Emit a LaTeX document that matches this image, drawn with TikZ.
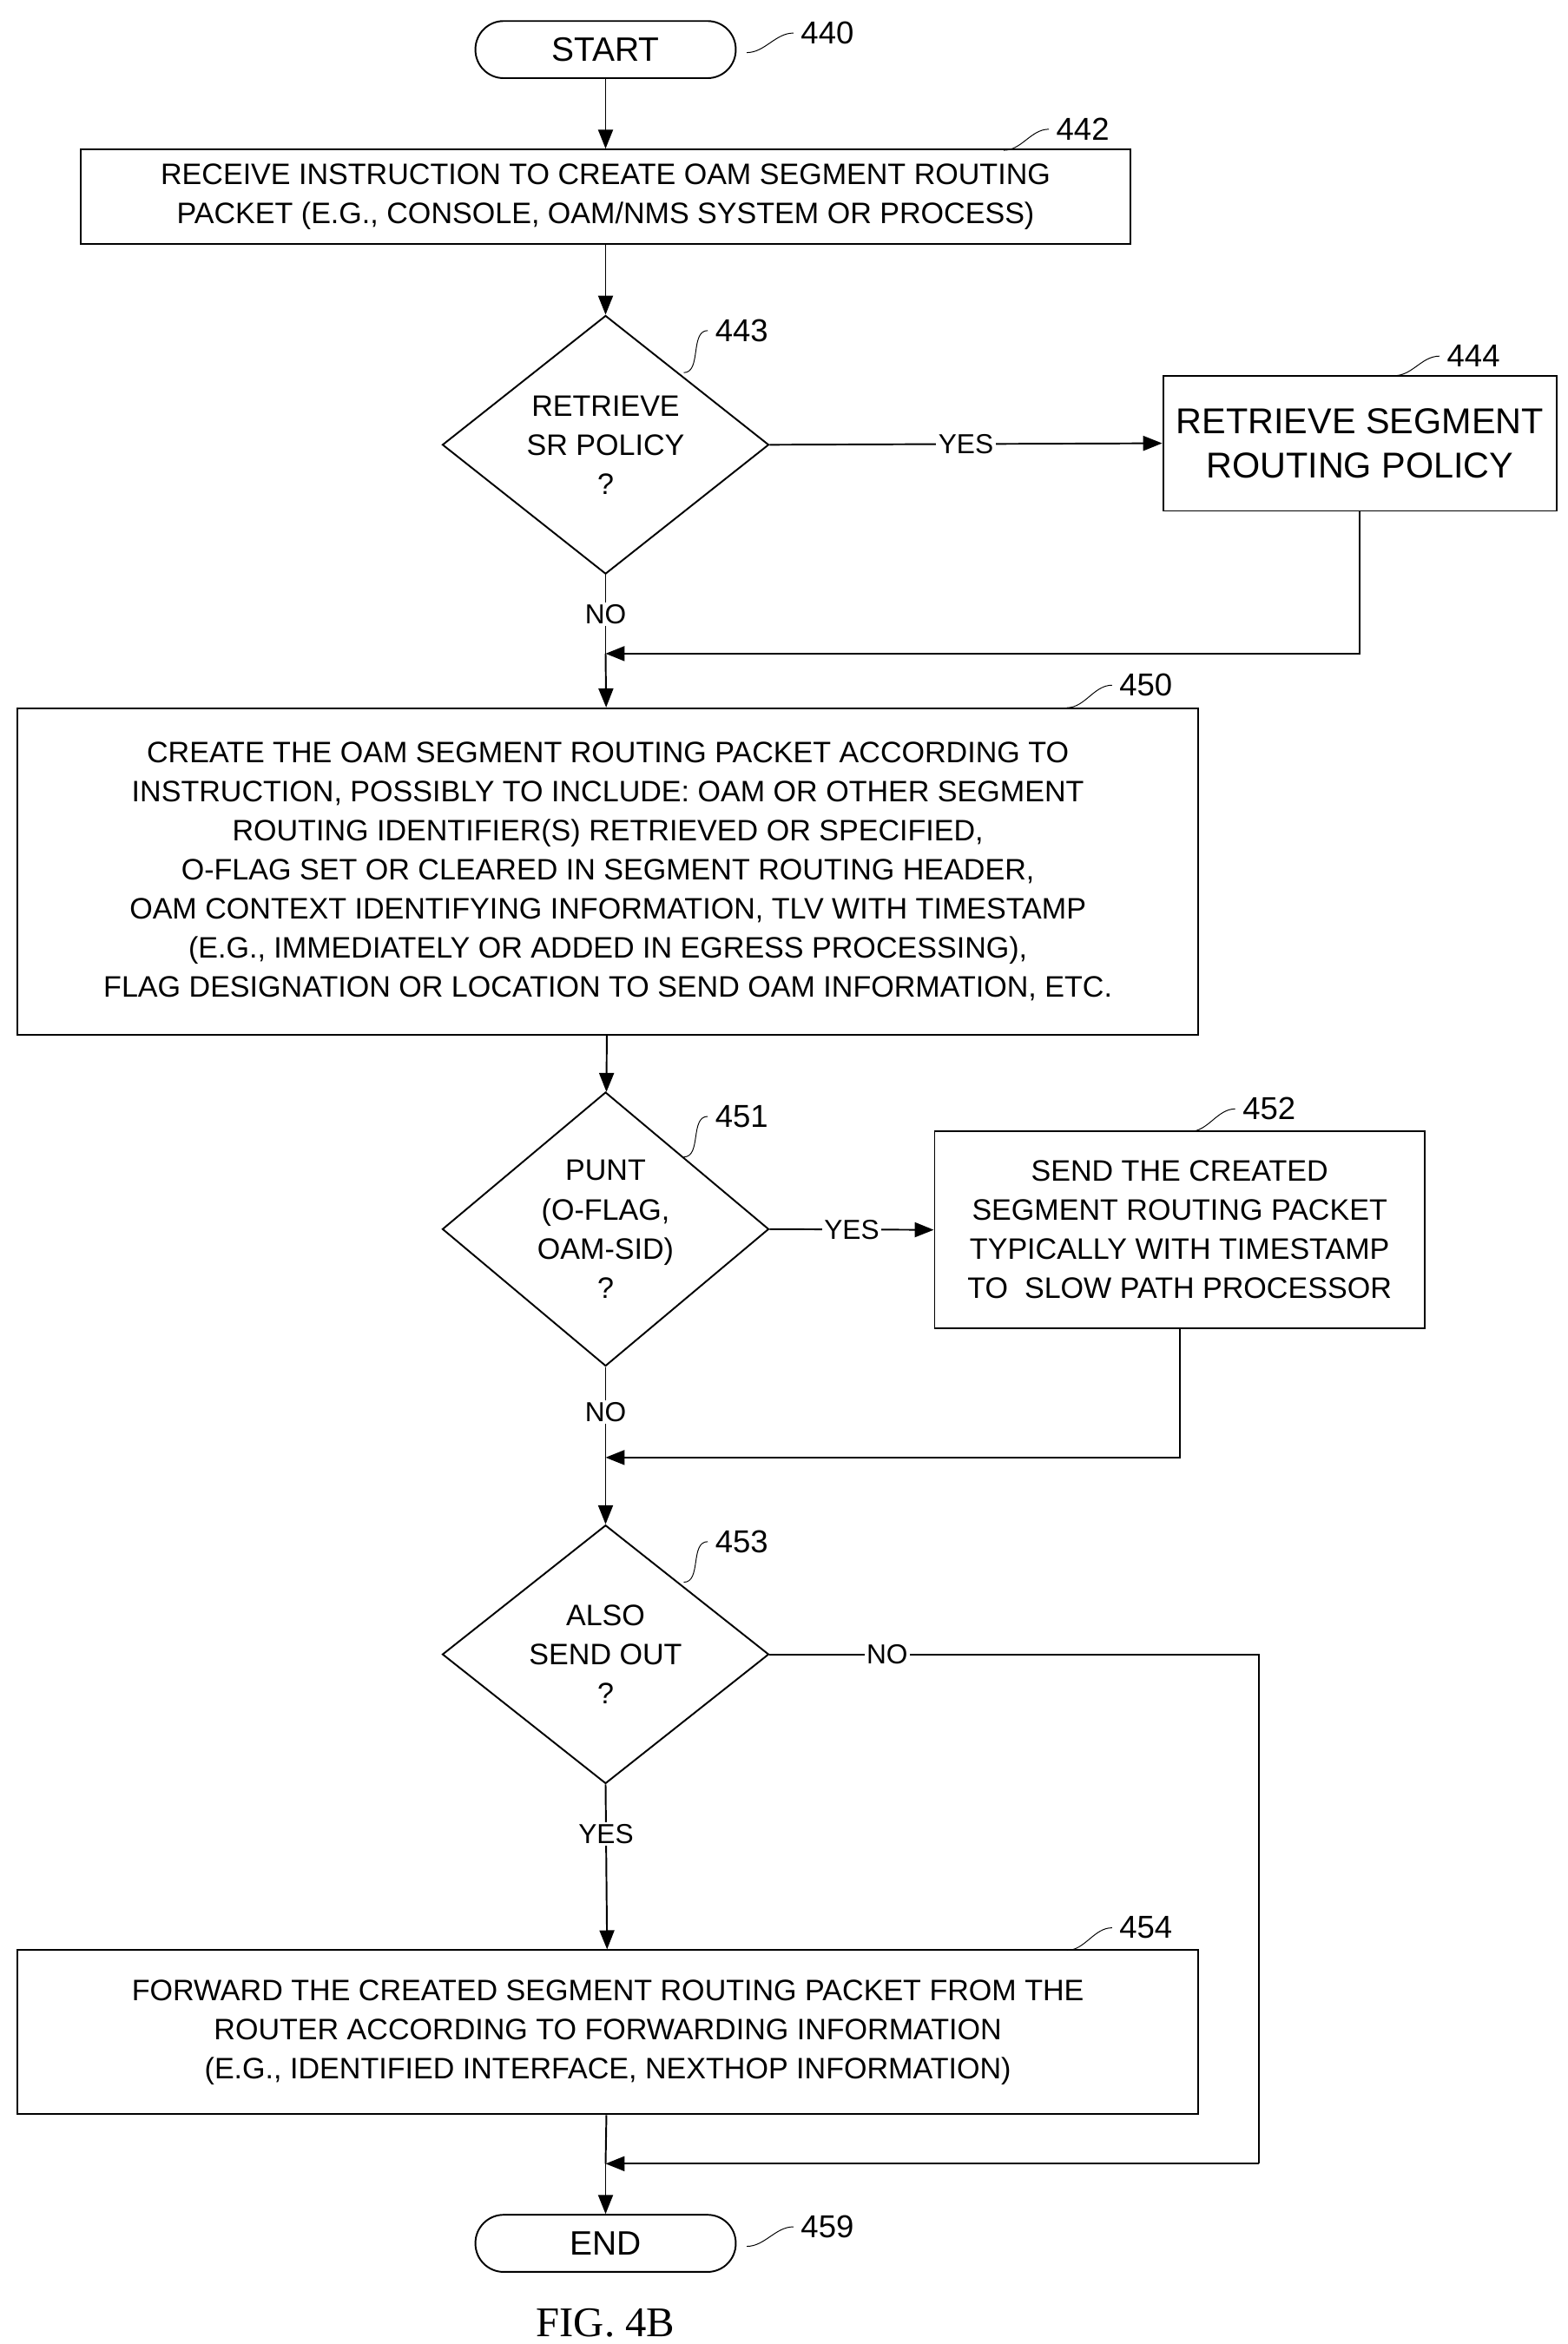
\documentclass[tikz,border=0pt]{standalone}
\usepackage{fontspec}
\setmainfont{Liberation Sans}
\usetikzlibrary{shapes.geometric,arrows.meta}
\tikzset{
  box/.style={draw,thick,align=center,inner sep=0pt,font=\fontsize{14}{18.5}\selectfont},
  term/.style={draw,thick,rounded corners=0.47cm,minimum width=4.33cm,minimum height=0.95cm,font=\fontsize{16}{19}\selectfont},
  dec/.style={draw,thick,diamond,inner sep=0pt,minimum width=5.43cm,minimum height=4.3cm,align=center,font=\fontsize{14}{18.5}\selectfont},
  tag/.style={font=\fontsize{15}{18}\selectfont},
  lbl/.style={fill=white,inner sep=1pt,font=\fontsize{13}{16}\selectfont},
  flow/.style={thick,-{Triangle[length=9pt,width=7pt]}},
  lead/.style={thin}
}
\begin{document}
\begin{tikzpicture}[x=0.025cm,y=-0.025cm]
\useasboundingbox (0,0) rectangle (1043,1560);
% blocks
\node[term] (start) at (403,33) {START};
\node[box,minimum width=17.45cm,minimum height=1.575cm] (b442) at (403,131)
  {RECEIVE INSTRUCTION TO CREATE OAM SEGMENT ROUTING\\PACKET (E.G., CONSOLE, OAM/NMS SYSTEM OR PROCESS)};
\node[dec] (d443) at (403,296) {RETRIEVE\\SR POLICY\\?};
\node[box,minimum width=6.55cm,minimum height=2.25cm,font=\fontsize{17}{21}\selectfont] (b444) at (905,295)
  {RETRIEVE SEGMENT\\ROUTING POLICY};
\node[box,minimum width=19.63cm,minimum height=5.43cm] (b450) at (404.5,580)
  {CREATE THE OAM SEGMENT ROUTING PACKET ACCORDING TO\\
   INSTRUCTION, POSSIBLY TO INCLUDE: OAM OR OTHER SEGMENT\\
   ROUTING IDENTIFIER(S) RETRIEVED OR SPECIFIED,\\
   O-FLAG SET OR CLEARED IN SEGMENT ROUTING HEADER,\\
   OAM CONTEXT IDENTIFYING INFORMATION, TLV WITH TIMESTAMP\\
   (E.G., IMMEDIATELY OR ADDED IN EGRESS PROCESSING),\\
   FLAG DESIGNATION OR LOCATION TO SEND OAM INFORMATION, ETC.};
\node[dec] (d451) at (403,818) {PUNT\\(O-FLAG,\\OAM-SID)\\?};
\node[box,minimum width=8.15cm,minimum height=3.28cm] (b452) at (785,818.5)
  {SEND THE CREATED\\SEGMENT ROUTING PACKET\\TYPICALLY WITH TIMESTAMP\\TO~~SLOW PATH PROCESSOR};
\node[dec] (d453) at (403,1101) {ALSO\\SEND OUT\\?};
\node[box,minimum width=19.63cm,minimum height=2.73cm] (b454) at (404.5,1352.5)
  {FORWARD THE CREATED SEGMENT ROUTING PACKET FROM THE\\
   ROUTER ACCORDING TO FORWARDING INFORMATION\\
   (E.G., IDENTIFIED INTERFACE, NEXTHOP INFORMATION)};
\node[term] (end) at (403,1493) {END};
\node[font=\fontsize{20}{24}\bfseries\rmfamily] (fig) at (403,1546) {\setmainfont{Liberation Serif}FIG. 4B};
% joins
\coordinate (j1) at (403,435);
\coordinate (j2) at (403,970);
\coordinate (j3) at (403,1440);
\coordinate (c444) at (905,435);
\coordinate (c452) at (785,970);
\coordinate (n453) at (838,1101);
\coordinate (m453) at (838,1440);
% connectors
\draw[flow] (start) -- (b442);
\draw[flow] (b442) -- (d443);
\draw[flow] (d443.east) -- node[lbl] {YES} (b444.west);
\draw[thick] (d443.south) -- node[lbl,pos=0.5] {NO} (j1);
\draw[flow] (b444.south) |- (j1);
\draw[flow] (j1) -- (b450);
\draw[flow] (b450) -- (d451);
\draw[flow] (d451.east) -- node[lbl] {YES} (b452.west);
\draw[thick] (d451.south) -- node[lbl] {NO} (j2);
\draw[flow] (b452.south) |- (j2);
\draw[flow] (j2) -- (d453);
\draw[thick] (d453.east) -- node[lbl,pos=0.24] {NO} (n453) -- (m453);
\draw[flow] (m453) -- (j3);
\draw[flow] (d453.south) -- node[lbl,pos=0.3] {YES} (b454);
\draw[thick] (b454) -- (j3);
\draw[flow] (j3) -- (end);
% reference numerals
\foreach \n/\x/\y/\a/\b in {440/548/22/497/35, 442/718/86/668/100, 443/491/220/455/248,
  444/978/237/928/250, 450/760/456/710/471, 451/491/743/455/770, 452/842/738/792/753,
  453/491/1026/455/1053, 454/760/1283/710/1298, 459/548/1482/497/1495}
{
  \node[tag,anchor=west] (t\n) at (\x-20,\y) {\n};
  \coordinate (p\n) at (\a,\b);
  \draw[lead] (t\n.west) .. controls +(-12,0) and +(12,0) .. (p\n);
}
\end{tikzpicture}
\end{document}
